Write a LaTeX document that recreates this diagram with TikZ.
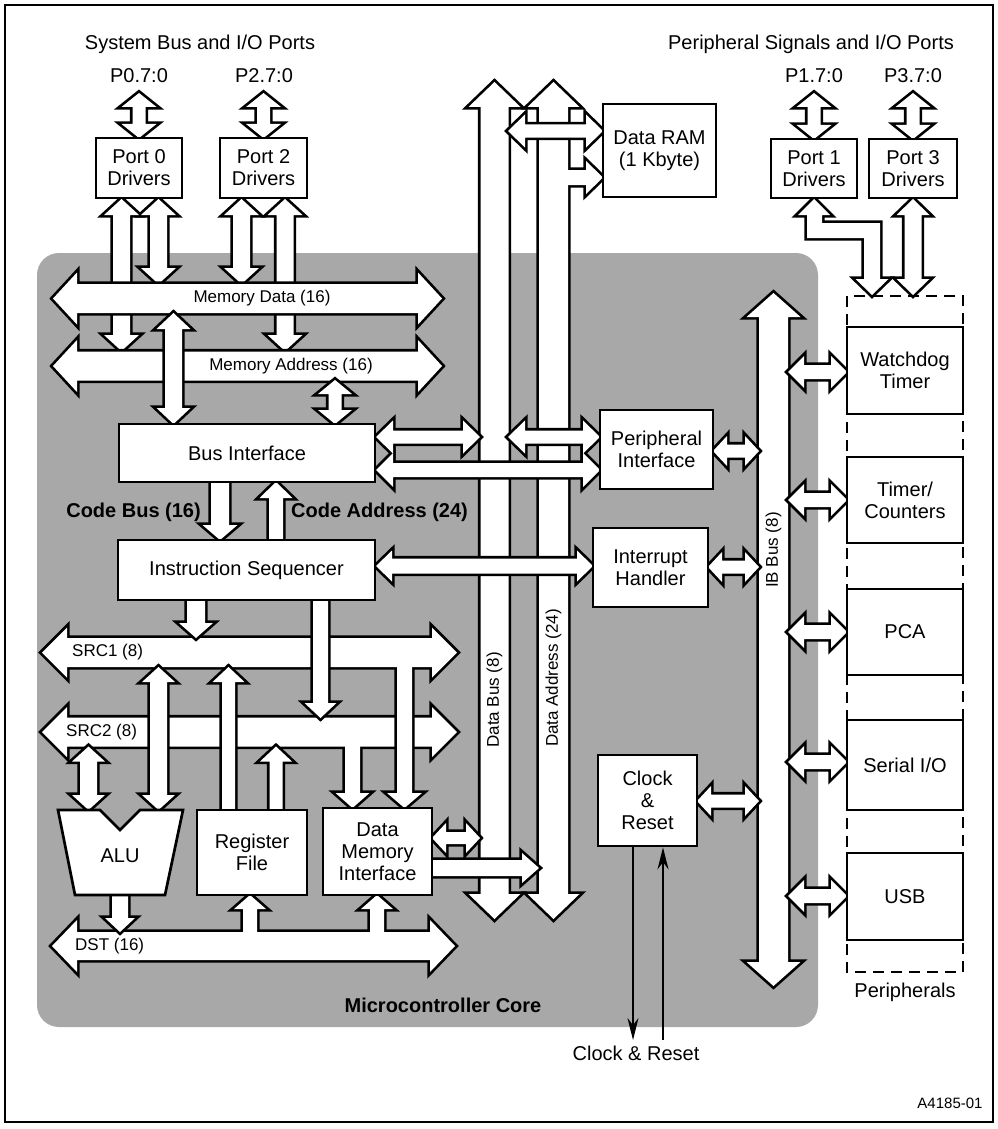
\documentclass[tikz,border=0pt]{standalone}
\usepackage{fontspec}
\setmainfont{Liberation Sans}
\usetikzlibrary{arrows.meta}
% fat arrow shapes (x=1pt, y=-1pt picture units)
% vertical double: x, ytop, ybot, half shaft, half head, head length
\newcommand\fVD[6]{\path[fatshape] (#1,#2) -- ({#1+#5},{#2+#6}) -- ({#1+#4},{#2+#6}) -- ({#1+#4},{#3-#6}) -- ({#1+#5},{#3-#6}) -- (#1,#3) -- ({#1-#5},{#3-#6}) -- ({#1-#4},{#3-#6}) -- ({#1-#4},{#2+#6}) -- ({#1-#5},{#2+#6}) -- cycle;}
% vertical down: x, ytail, ytip
\newcommand\fVDn[6]{\path[fatshape] ({#1-#4},#2) -- ({#1+#4},#2) -- ({#1+#4},{#3-#6}) -- ({#1+#5},{#3-#6}) -- (#1,#3) -- ({#1-#5},{#3-#6}) -- ({#1-#4},{#3-#6}) -- cycle;}
% vertical up: x, ytip, ytail
\newcommand\fVU[6]{\path[fatshape] (#1,#2) -- ({#1+#5},{#2+#6}) -- ({#1+#4},{#2+#6}) -- ({#1+#4},#3) -- ({#1-#4},#3) -- ({#1-#4},{#2+#6}) -- ({#1-#5},{#2+#6}) -- cycle;}
% horizontal double: y, xl, xr
\newcommand\fHD[6]{\path[fatshape] (#2,#1) -- ({#2+#6},{#1-#5}) -- ({#2+#6},{#1-#4}) -- ({#3-#6},{#1-#4}) -- ({#3-#6},{#1-#5}) -- (#3,#1) -- ({#3-#6},{#1+#5}) -- ({#3-#6},{#1+#4}) -- ({#2+#6},{#1+#4}) -- ({#2+#6},{#1+#5}) -- cycle;}
% horizontal right: y, xtail, xtip
\newcommand\fHR[6]{\path[fatshape] (#2,{#1-#4}) -- ({#3-#6},{#1-#4}) -- ({#3-#6},{#1-#5}) -- (#3,#1) -- ({#3-#6},{#1+#5}) -- ({#3-#6},{#1+#4}) -- (#2,{#1+#4}) -- cycle;}
% union drawing: outline pass then fill pass
\newcommand\fatgroup[1]{%
  \tikzset{fatshape/.style={draw=black,line width=5.4pt,line join=miter}}#1%
  \tikzset{fatshape/.style={fill=white}}#1}
% box by corners: x1,y1,x2,y2,name,text
\newcommand\mybox[6]{\node[blk,minimum width={#3-#1},minimum height={#4-#2}] (#5) at ({(#1+#3)/2},{(#2+#4)/2}) {#6};}
\begin{document}
\begin{tikzpicture}[x=1pt,y=-1pt,
  fatshape/.style={draw=black},
  blk/.style={draw=black,line width=2.7pt,fill=white,inner sep=0pt,align=center,font=\fontsize{20}{22}\selectfont},
  lbl/.style={inner sep=0pt,align=center,font=\fontsize{20}{22}\selectfont},
  buslbl/.style={inner sep=0pt,font=\fontsize{17}{19}\selectfont},
  thinarrow/.style={line width=2pt,-{Stealth[length=22pt,width=11pt]}}]
\useasboundingbox (0,0) rectangle (997,1129);
\draw[line width=1.5pt] (5,5) rectangle (993,1122);
% core shading
\fill[black!34,rounded corners=22pt] (37,253) rectangle (818,1027);

% small port arrows
\fatgroup{\fVD{139}{93}{138}{6.5}{17.5}{14}\fVD{263.5}{93}{138}{6.5}{17.5}{14}\fVD{814}{93}{139}{6.5}{17.5}{14}\fVD{913}{93}{139}{6.5}{17.5}{14}}
% port 0 / port 2 arrows
\fatgroup{\fVD{121.5}{199}{351}{8.5}{17.5}{16}\fVD{158.5}{199}{284}{8.5}{17.5}{16}\fVD{241.5}{199}{284}{8.5}{17.5}{16}\fVD{285}{199}{351}{8.5}{17.5}{16}}
% memory address and data buses
\fatgroup{\fHD{366}{53}{442}{14.5}{26}{24}}
\fatgroup{\fHD{298.5}{53}{442}{14.5}{26}{24}}
\fatgroup{\fVD{173.5}{313}{424}{8.5}{17}{16}\fVD{335}{380}{424}{6.5}{17}{14}}
% code bus / code address
\fatgroup{\fVDn{220}{482}{540}{9}{17.5}{15}\fVU{276}{482}{540}{7}{16.5}{16}}
% data bus, data address
\fatgroup{\fVD{494.5}{82}{919}{14}{26}{25}}
\fatgroup{\fVD{553.5}{82}{919}{14.5}{26}{25}\fHR{177.5}{560}{603}{7.5}{16.5}{17}}
\fatgroup{\fHD{131}{508}{603}{6.5}{16.5}{17}}
% horizontal links across the data buses
\fatgroup{\fHD{437}{376}{480}{6.5}{16.5}{17}\fHD{437}{508}{600}{6.5}{16.5}{17}\fHD{470}{376}{600}{7}{17}{17}\fHD{566}{376}{593}{7.5}{15.5}{16}}
\fatgroup{\fHD{838}{432}{480}{6}{15}{14}\fHR{868}{432}{539}{8}{15}{17}}
% SRC2 with branch, SRC1 with branch
\fatgroup{\fHD{732}{42}{457}{14.5}{25}{25}\fVDn{352.5}{735}{808}{7.5}{17}{15}}
\fatgroup{\fHD{652.5}{42}{457}{14.5}{25}{25}\fVDn{404.5}{655}{808}{7.5}{17.5}{15}}
\fatgroup{\fVDn{196}{600}{638}{9}{17}{15}\fVDn{320.5}{600}{718}{7.5}{16}{15}}
\fatgroup{\fVD{158.5}{667}{810}{8.5}{16.5}{15}\fVD{88.5}{746.5}{810}{8.5}{16.5}{15}\fVU{228.5}{667}{810}{6.5}{16}{15}\fVU{276}{746.5}{810}{6.5}{16}{15}}
% DST
\fatgroup{\fHD{946}{52}{455}{14}{26}{25}\fVU{250}{895}{950}{7}{16}{14}\fVU{377}{895}{950}{7}{16}{14}}
\fatgroup{\fVDn{120}{895}{932}{8}{15}{14}}
% IB bus
\fatgroup{\fVD{773.5}{293}{986}{14.5}{27}{24}}
\fatgroup{\fHD{451}{713}{759}{6.5}{15}{14}\fHD{567}{708}{759}{6.5}{15}{14}\fHD{801}{697}{759}{6.5}{15}{14}}
\fatgroup{\fHD{372}{788}{847}{7}{16}{16}\fHD{500}{788}{847}{7}{16}{16}\fHD{632}{788}{847}{7}{16}{16}\fHD{762}{788}{847}{7}{16}{16}\fHD{896}{788}{847}{7}{16}{16}}
% port 1 bent arrow and port 3 arrow
\fatgroup{\path[fatshape] (814,199) -- (830,215) -- (822,215) -- (822,223) -- (880,223) -- (880,279) -- (888.5,279) -- (872,295) -- (855.5,279) -- (864,279) -- (864,238) -- (807,238) -- (807,215) -- (798,215) -- cycle;\fVD{913}{199}{295}{8.5}{16.5}{16}}

% peripherals dashed frame
\draw[line width=2.4pt,dash pattern=on 11pt off 7pt] (847,296) rectangle (963,972);

% boxes
\mybox{96}{138}{182}{198}{p0}{Port 0\\Drivers}
\mybox{220}{138}{307}{198}{p2}{Port 2\\Drivers}
\mybox{771}{139}{857}{198}{p1}{Port 1\\Drivers}
\mybox{869}{139}{957}{198}{p3}{Port 3\\Drivers}
\mybox{603}{104}{716}{197}{ram}{Data RAM\\(1 Kbyte)}
\mybox{119}{424}{375}{482}{bi}{Bus Interface}
\mybox{118}{540}{375}{600}{is}{Instruction Sequencer}
\mybox{600}{410}{713}{489}{pi}{Peripheral\\Interface}
\mybox{593}{528}{708}{607}{ih}{Interrupt\\Handler}
\mybox{598}{755}{697}{846}{cr}{Clock\\\&\\Reset}
\mybox{323}{808}{432}{895}{dmi}{Data\\Memory\\Interface}
\mybox{197}{810}{307}{895}{rf}{Register\\File}
\mybox{847}{327}{963}{414}{wd}{Watchdog\\Timer}
\mybox{847}{457}{963}{543}{tc}{Timer/\\Counters}
\mybox{847}{589}{963}{675}{pca}{PCA}
\mybox{847}{720}{963}{810}{sio}{Serial I/O}
\mybox{847}{853}{963}{940}{usb}{USB}
% ALU
\draw[line width=2.7pt,fill=white,line join=miter] (58,810) -- (100,810) -- (120,830) -- (140,810) -- (183,810) -- (165,895) -- (75,895) -- cycle;
\node[lbl] (alu) at (120,856) {ALU};

% clock and reset lines
\coordinate (clkD) at (633,1040);
\coordinate (clkU) at (663,1040);
\draw[thinarrow] (cr.south -| clkD) -- (clkD);
\draw[thinarrow] (clkU) -- (cr.south -| clkU);

% labels
\node[lbl] (t1) at (200,44) {System Bus and I/O Ports};
\node[lbl] (t2) at (811,44) {Peripheral Signals and I/O Ports};
\node[lbl] (l0) at (139,76) {P0.7:0};
\node[lbl] (l2) at (264,76) {P2.7:0};
\node[lbl] (l1) at (814,76) {P1.7:0};
\node[lbl] (l3) at (913,76) {P3.7:0};
\node[buslbl] (mdl) at (262,298.5) {Memory Data (16)};
\node[buslbl] (mal) at (291,366) {Memory Address (16)};
\node[lbl,anchor=east,font=\fontsize{20}{22}\selectfont\bfseries] (cbl) at (201,512) {Code Bus (16)};
\node[lbl,anchor=west,font=\fontsize{20}{22}\selectfont\bfseries] (cal) at (291,512) {Code Address (24)};
\node[buslbl,anchor=west] (s1l) at (72,652.5) {SRC1 (8)};
\node[buslbl,anchor=west] (s2l) at (66,732) {SRC2 (8)};
\node[buslbl,anchor=west] (dstl) at (75,946) {DST (16)};
\node[buslbl,rotate=90] (dbl) at (494.5,700) {Data Bus (8)};
\node[buslbl,rotate=90] (dal) at (553.5,678) {Data Address (24)};
\node[buslbl,rotate=90] (ibl) at (773.5,550) {IB Bus (8)};
\node[lbl,font=\fontsize{20}{22}\selectfont\bfseries] (core) at (443,1005) {Microcontroller Core};
\node[lbl] (perl) at (905,992) {Peripherals};
\node[lbl] (crl) at (636,1053) {Clock \& Reset};
\node[lbl,font=\fontsize{15}{17}\selectfont] (fig) at (950,1103) {A4185-01};
\end{tikzpicture}
\end{document}
